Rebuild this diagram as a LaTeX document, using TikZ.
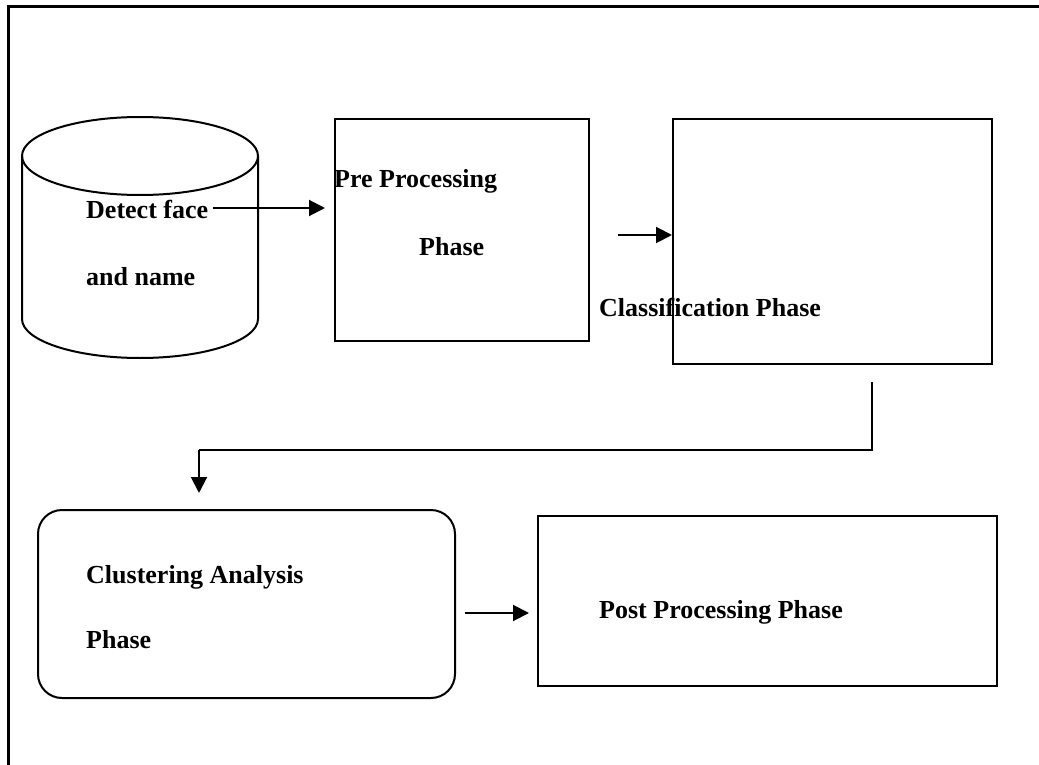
\documentclass[tikz,border=0pt]{standalone}
\usepackage{fontspec}
\setmainfont{Liberation Serif}
\usetikzlibrary{arrows.meta}
\tikzset{
  boxline/.style={draw, line width=2pt},
  phasebox/.style={boxline, rectangle, inner sep=0pt},
  label/.style={inner sep=0pt, anchor=base west, font=\fontsize{26}{30}\selectfont\bfseries},
  flow/.style={line width=2pt, -{Triangle[length=16pt,width=16pt]}},
  plain/.style={line width=2pt},
}
\begin{document}
\begin{tikzpicture}[x=1pt,y=1pt]
\useasboundingbox (0,0) rectangle (1039,-765);
% outer frame: top and left edges only
\draw[line width=3pt] (1039,-7) -- (8,-7) -- (8,-765);

% database cylinder
\draw[boxline] (22,-156) -- (22,-319) arc (180:360:118 and 39) -- (258,-156)
  arc (0:180:118 and 39) -- cycle;
\draw[boxline] (22,-156) arc (180:360:118 and 39);
\node[label] (detect) at (86,-218) {Detect face};
\node[label] (name) at (86,-285) {and name};

% phase boxes
\node[phasebox, minimum width=254pt, minimum height=222pt] (pre) at (462,-230) {};
\node[phasebox, minimum width=319pt, minimum height=245pt] (cls) at (832.5,-241.5) {};
\node[phasebox, minimum width=459pt, minimum height=170pt] (post) at (767.5,-601) {};
\draw[boxline, rounded corners=24pt] (38,-510) rectangle (455,-698);
\node[inner sep=0pt, minimum width=417pt, minimum height=188pt] (clu) at (246.5,-604) {};

% labels
\node[label] (preA) at (334,-187) {Pre Processing};
\node[label] (preB) at (419,-255) {Phase};
\node[label] (clsT) at (599,-316) {Classification Phase};
\node[label] (cluA) at (86,-583) {Clustering Analysis};
\node[label] (cluB) at (86,-648) {Phase};
\node[label] (postT) at (599,-618) {Post Processing Phase};

% connectors
\coordinate (t1) at (325,-208);
\draw[flow] ([xshift=5pt]detect.east |- t1) -- (t1);

\coordinate (s2) at (618,-235);
\draw[flow] (s2) -- (cls.west |- s2);

\coordinate (s3) at (872,-382);
\coordinate (k3) at (872,-450);
\coordinate (k4) at (199,-450);
\coordinate (t3) at (199,-493);
\draw[plain] (s3) -- (k3) -- (k4);
\draw[flow] (k4) -- (t3);

\coordinate (s4) at (465,-613);
\coordinate (t4) at (529,-613);
\draw[flow] (s4) -- (t4);
\end{tikzpicture}
\end{document}
